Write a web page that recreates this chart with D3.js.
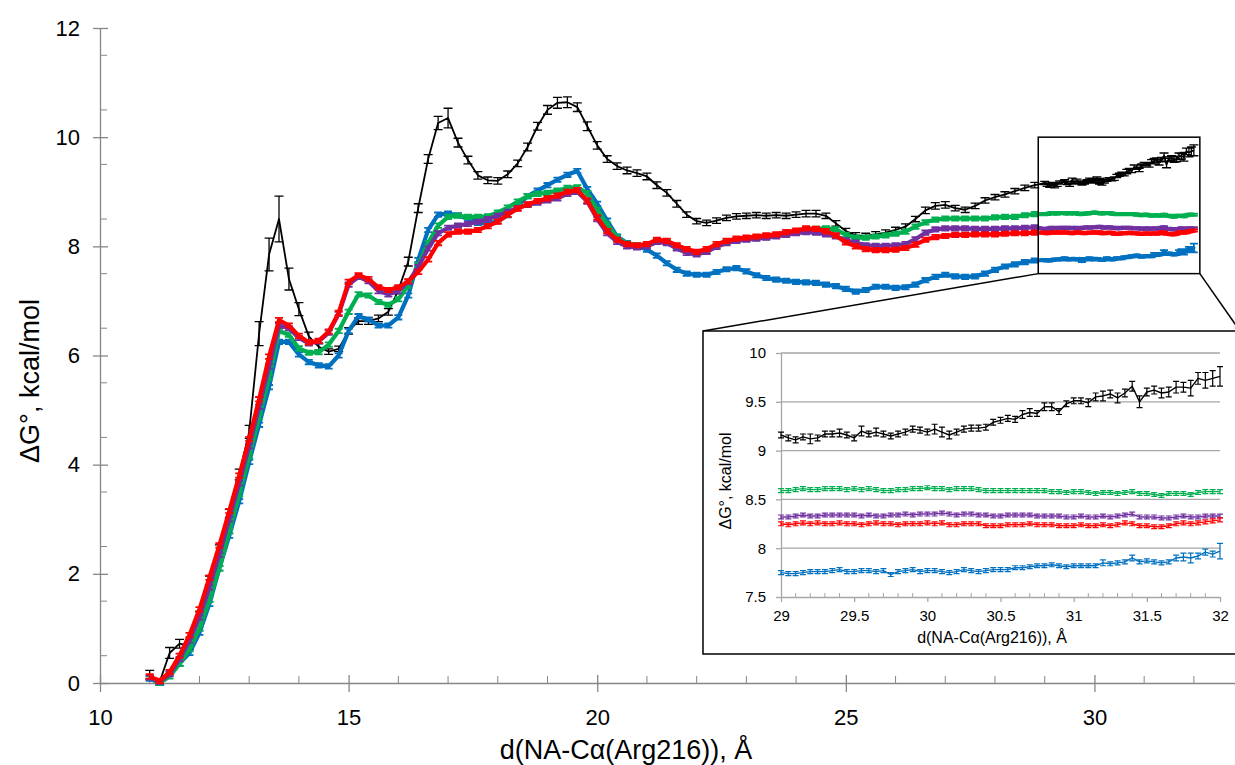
<!DOCTYPE html>
<html>
<head>
<meta charset="utf-8">
<script src="https://cdn.jsdelivr.net/npm/d3@7"></script>
<style>
  body { margin: 0; background: #fff; }
  text { font-family: "Liberation Sans", Arial, sans-serif; fill: #000; }
</style>
</head>
<body>
<script>
// sampling grid: coarse steps on the main curve, fine steps inside the zoomed window
var xMain = d3.range(0, 90).map(function (i) { return +(11 + i * 0.2).toFixed(2); });
var xZoom = d3.range(0, 61).map(function (i) { return +(29 + i * 0.05).toFixed(2); });

var seriesNames = ["black", "blue", "green", "purple", "red"];
var seriesColors = ["#000000", "#0070C0", "#00B050", "#7030A0", "#FF0000"];

// values, 11.0 .. 28.8 (step 0.2)
var blackMain = [
  0.15, 0.02, 0.55, 0.72, 0.68, 1.25, 1.88, 2.45, 3.1, 3.82,
  4.6, 6.4, 7.85, 8.5, 7.4, 6.85, 6.35, 6.16, 6.07, 6.12,
  6.45, 6.63, 6.63, 6.68, 6.8, 7.2, 7.72, 8.7, 9.6, 10.26,
  10.35, 9.9, 9.58, 9.3, 9.21, 9.2, 9.32, 9.52, 9.82, 10.2,
  10.5, 10.63, 10.64, 10.55, 10.2, 9.85, 9.6, 9.47, 9.39, 9.34,
  9.28, 9.12, 8.98, 8.78, 8.58, 8.46, 8.43, 8.47, 8.52, 8.55,
  8.56, 8.57, 8.56, 8.57, 8.56, 8.58, 8.6, 8.6, 8.56, 8.42,
  8.28, 8.2, 8.19, 8.22, 8.25, 8.3, 8.36, 8.5, 8.66, 8.74,
  8.76, 8.7, 8.67, 8.74, 8.84, 8.9, 8.95, 9.01, 9.07, 9.12
];
var blueMain = [
  0.08, 0.0, 0.18, 0.36, 0.55, 0.92, 1.45, 2.1, 2.7, 3.33,
  4.05, 4.73, 5.42, 6.25, 6.25, 6.02, 5.88, 5.82, 5.8, 6.0,
  6.45, 6.72, 6.66, 6.55, 6.55, 6.7, 7.1, 7.75, 8.3, 8.58,
  8.6, 8.57, 8.5, 8.43, 8.42, 8.46, 8.57, 8.74, 8.92, 9.02,
  9.12, 9.22, 9.31, 9.38, 9.05, 8.78, 8.47, 8.18, 8.06, 8.0,
  7.94, 7.83, 7.69, 7.57, 7.5, 7.48, 7.48, 7.53, 7.58, 7.6,
  7.54, 7.47, 7.42, 7.39, 7.37, 7.35, 7.34, 7.33, 7.3, 7.27,
  7.22, 7.17, 7.2, 7.26, 7.26, 7.24, 7.25, 7.3, 7.38, 7.44,
  7.48, 7.45, 7.44, 7.45, 7.5, 7.57, 7.63, 7.67, 7.71, 7.74
];
var greenMain = [
  0.1, 0.0, 0.12, 0.35, 0.62, 1.0, 1.52, 2.1, 2.78, 3.46,
  4.15, 4.88, 5.6, 6.45, 6.38, 6.13, 6.05, 6.06, 6.2, 6.45,
  6.8, 7.12, 7.1, 6.98, 6.93, 7.03, 7.28, 7.65, 8.06, 8.38,
  8.54, 8.56, 8.54, 8.54, 8.55, 8.62, 8.71, 8.82, 8.92, 8.96,
  8.98, 9.02, 9.07, 9.08, 8.97, 8.67, 8.4, 8.16, 8.05, 8.02,
  8.03, 8.1, 8.08, 7.98, 7.92, 7.88, 7.91, 8.0, 8.08, 8.11,
  8.13, 8.15, 8.17, 8.2, 8.23, 8.26, 8.3, 8.32, 8.33, 8.31,
  8.21, 8.16, 8.16, 8.18, 8.2, 8.23, 8.27, 8.36, 8.44, 8.49,
  8.51, 8.51, 8.51, 8.51, 8.51, 8.53, 8.54, 8.54, 8.57, 8.59
];
var purpleMain = [
  0.1, 0.02, 0.16, 0.44, 0.78, 1.2, 1.75, 2.35, 3.0, 3.66,
  4.34, 5.06, 5.8, 6.55, 6.5, 6.32, 6.22, 6.26, 6.42, 6.76,
  7.3, 7.44, 7.36, 7.18, 7.12, 7.18, 7.35, 7.62, 7.96, 8.24,
  8.34, 8.38, 8.41, 8.45, 8.5, 8.56, 8.63, 8.7, 8.76, 8.8,
  8.84, 8.88, 8.96, 9.0, 8.82, 8.5, 8.24, 8.08, 8.0, 7.98,
  8.0, 8.08, 8.06, 7.96, 7.88, 7.85, 7.9, 7.99, 8.06, 8.1,
  8.12, 8.14, 8.16, 8.18, 8.21, 8.24, 8.26, 8.25, 8.22, 8.18,
  8.11, 8.07, 8.02, 8.01, 8.01, 8.02, 8.04, 8.13, 8.25, 8.31,
  8.33, 8.33, 8.33, 8.32, 8.32, 8.32, 8.33, 8.33, 8.34, 8.35
];
var redMain = [
  0.12, 0.04, 0.2, 0.5, 0.88, 1.35, 1.93, 2.52, 3.15, 3.8,
  4.47, 5.2, 5.98, 6.65, 6.55, 6.36, 6.24, 6.27, 6.44, 6.78,
  7.35, 7.47, 7.4, 7.25, 7.2, 7.25, 7.36, 7.53, 7.76, 8.06,
  8.22, 8.27, 8.27, 8.3, 8.37, 8.45, 8.58, 8.69, 8.77, 8.83,
  8.88, 8.93, 9.0, 9.03, 8.84, 8.53, 8.28, 8.12, 8.04, 8.02,
  8.04, 8.12, 8.1, 8.02, 7.95, 7.9, 7.95, 8.04, 8.1, 8.14,
  8.16, 8.18, 8.2, 8.22, 8.26, 8.29, 8.33, 8.32, 8.28, 8.2,
  8.07, 8.0, 7.95, 7.93, 7.93, 7.94, 7.97, 8.03, 8.12, 8.17,
  8.19, 8.21, 8.21, 8.22, 8.22, 8.22, 8.23, 8.24, 8.24, 8.25
];

// values, 29.00 .. 32.00 (step 0.05)
var blackZoom = [
  9.16, 9.13, 9.11, 9.14, 9.12, 9.13, 9.17, 9.17, 9.18, 9.16,
  9.13, 9.20, 9.17, 9.19, 9.17, 9.15, 9.17, 9.19, 9.22, 9.21,
  9.19, 9.22, 9.19, 9.16, 9.19, 9.22, 9.23, 9.23, 9.24, 9.29,
  9.31, 9.33, 9.32, 9.37, 9.39, 9.38, 9.45, 9.45, 9.40, 9.48,
  9.51, 9.51, 9.49, 9.55, 9.56, 9.58, 9.54, 9.59, 9.66, 9.50,
  9.60, 9.62, 9.59, 9.60, 9.65, 9.65, 9.64, 9.74, 9.72, 9.74,
  9.76
];
var blueZoom = [
  7.75, 7.74, 7.74, 7.75, 7.76, 7.76, 7.76, 7.77, 7.78, 7.76,
  7.76, 7.77, 7.77, 7.76, 7.77, 7.73, 7.76, 7.77, 7.78, 7.76,
  7.77, 7.77, 7.76, 7.75, 7.76, 7.78, 7.77, 7.76, 7.77, 7.78,
  7.78, 7.78, 7.80, 7.80, 7.81, 7.82, 7.82, 7.83, 7.82, 7.81,
  7.82, 7.82, 7.82, 7.82, 7.85, 7.84, 7.85, 7.86, 7.90, 7.86,
  7.87, 7.86, 7.85, 7.86, 7.90, 7.91, 7.90, 7.92, 7.96, 7.94,
  7.97
];
var greenZoom = [
  8.59, 8.59, 8.60, 8.61, 8.60, 8.60, 8.61, 8.61, 8.61, 8.60,
  8.61, 8.60, 8.61, 8.60, 8.59, 8.59, 8.60, 8.60, 8.61, 8.61,
  8.62, 8.61, 8.61, 8.60, 8.61, 8.61, 8.61, 8.60, 8.59, 8.59,
  8.59, 8.59, 8.59, 8.59, 8.59, 8.59, 8.59, 8.58, 8.58, 8.57,
  8.58, 8.58, 8.57, 8.56, 8.57, 8.57, 8.56, 8.57, 8.58, 8.56,
  8.56, 8.55, 8.54, 8.56, 8.56, 8.56, 8.55, 8.57, 8.58, 8.58,
  8.58
];
var purpleZoom = [
  8.32, 8.32, 8.33, 8.34, 8.33, 8.33, 8.34, 8.34, 8.34, 8.34,
  8.34, 8.33, 8.34, 8.33, 8.33, 8.34, 8.34, 8.35, 8.34, 8.35,
  8.35, 8.35, 8.36, 8.35, 8.34, 8.35, 8.35, 8.34, 8.34, 8.33,
  8.33, 8.34, 8.34, 8.34, 8.34, 8.33, 8.33, 8.33, 8.33, 8.32,
  8.32, 8.33, 8.32, 8.32, 8.33, 8.32, 8.33, 8.34, 8.35, 8.32,
  8.32, 8.32, 8.31, 8.31, 8.32, 8.33, 8.32, 8.32, 8.33, 8.33,
  8.33
];
var redZoom = [
  8.25, 8.24, 8.25, 8.26, 8.25, 8.26, 8.25, 8.25, 8.26, 8.25,
  8.25, 8.24, 8.25, 8.26, 8.25, 8.25, 8.24, 8.25, 8.25, 8.25,
  8.26, 8.25, 8.26, 8.24, 8.24, 8.25, 8.25, 8.25, 8.23, 8.23,
  8.23, 8.24, 8.24, 8.24, 8.25, 8.24, 8.24, 8.24, 8.23, 8.23,
  8.23, 8.24, 8.23, 8.23, 8.24, 8.23, 8.24, 8.26, 8.25, 8.23,
  8.23, 8.22, 8.22, 8.23, 8.25, 8.26, 8.25, 8.26, 8.27, 8.28,
  8.29
];

// error bar half-widths
var blackErrMain = [
  0.08, 0.06, 0.1, 0.08, 0.06, 0.06, 0.08, 0.08, 0.08, 0.1,
  0.12, 0.22, 0.3, 0.42, 0.2, 0.12, 0.08, 0.06, 0.05, 0.05,
  0.06, 0.06, 0.06, 0.06, 0.06, 0.07, 0.08, 0.08, 0.08, 0.12,
  0.18, 0.08, 0.07, 0.07, 0.06, 0.06, 0.06, 0.06, 0.07, 0.07,
  0.08, 0.1, 0.1, 0.08, 0.08, 0.07, 0.06, 0.06, 0.06, 0.06,
  0.06, 0.06, 0.06, 0.06, 0.05, 0.05, 0.05, 0.05, 0.05, 0.05,
  0.05, 0.05, 0.05, 0.05, 0.05, 0.05, 0.06, 0.06, 0.05, 0.05,
  0.05, 0.05, 0.05, 0.05, 0.05, 0.05, 0.05, 0.05, 0.06, 0.06,
  0.06, 0.05, 0.05, 0.05, 0.05, 0.05, 0.05, 0.05, 0.05, 0.05
];
var blackErrZoom = [
  0.03, 0.03, 0.03, 0.03, 0.05, 0.03, 0.03, 0.03, 0.04, 0.03,
  0.03, 0.05, 0.03, 0.04, 0.03, 0.03, 0.03, 0.03, 0.03, 0.03,
  0.03, 0.05, 0.05, 0.04, 0.03, 0.03, 0.03, 0.03, 0.03, 0.03,
  0.03, 0.03, 0.03, 0.04, 0.04, 0.03, 0.04, 0.04, 0.03, 0.03,
  0.03, 0.03, 0.04, 0.04, 0.05, 0.04, 0.05, 0.04, 0.05, 0.06,
  0.04, 0.04, 0.05, 0.05, 0.06, 0.05, 0.08, 0.06, 0.08, 0.08,
  0.10
];
var blueErrZoom = [
  0.02, 0.02, 0.02, 0.02, 0.02, 0.02, 0.02, 0.02, 0.02, 0.02,
  0.02, 0.02, 0.02, 0.02, 0.02, 0.02, 0.02, 0.02, 0.02, 0.02,
  0.02, 0.02, 0.02, 0.02, 0.02, 0.02, 0.02, 0.02, 0.02, 0.02,
  0.02, 0.02, 0.02, 0.02, 0.02, 0.02, 0.02, 0.02, 0.02, 0.02,
  0.02, 0.02, 0.02, 0.02, 0.03, 0.02, 0.02, 0.02, 0.03, 0.02,
  0.02, 0.02, 0.02, 0.02, 0.03, 0.04, 0.05, 0.03, 0.03, 0.03,
  0.08
];
var colorErrMain = 0.04;
var colorErrZoom = 0.02;

var mainTicksX = [10, 15, 20, 25, 30];
var mainTicksY = [0, 2, 4, 6, 8, 10, 12];
var zoomTicksX = [29, 29.5, 30, 30.5, 31, 31.5, 32];
var zoomTicksY = [7.5, 8, 8.5, 9, 9.5, 10];

var valuesMain = [blackMain, blueMain, greenMain, purpleMain, redMain];
var valuesZoom = [blackZoom, blueZoom, greenZoom, purpleZoom, redZoom];
var errZoomBy = { black: blackErrZoom, blue: blueErrZoom };

var W = 1235, H = 765;
var svg = d3.select("body").append("svg").attr("width", W).attr("height", H);

var xAll = xMain.concat(xZoom);
var series = seriesNames.map(function (name, k) {
  var ez = errZoomBy[name] || xZoom.map(function () { return colorErrZoom; });
  var em = name === "black" ? blackErrMain : xMain.map(function () { return colorErrMain; });
  var vals = valuesMain[k].concat(valuesZoom[k]);
  var errs = em.concat(ez);
  return {
    name: name,
    color: seriesColors[k],
    all: xAll.map(function (x, i) { return { x: x, y: vals[i], e: errs[i] }; }),
    zoom: xZoom.map(function (x, i) { return { x: x, y: valuesZoom[k][i], e: ez[i] }; })
  };
});

// ---------------- main chart ----------------
var x = d3.scaleLinear().domain([10, 33]).range([100, 1243.6]);
var y = d3.scaleLinear().domain([0, 12]).range([683, 28]);
var axisColor = "#868686";

function drawErrorSeries(g, pts, xs, ys, color, lw, ew, cap) {
  var line = d3.line().x(function (d) { return xs(d.x); }).y(function (d) { return ys(d.y); });
  var d = "";
  pts.forEach(function (p) {
    var px = xs(p.x), y1 = ys(p.y + p.e), y2 = ys(p.y - p.e);
    d += "M" + (px - cap / 2) + "," + y1 + "h" + cap +
      "M" + px + "," + y1 + "V" + y2 +
      "M" + (px - cap / 2) + "," + y2 + "h" + cap;
  });
  g.append("path").attr("d", d).attr("fill", "none")
    .attr("stroke", color).attr("stroke-width", ew);
  g.append("path").datum(pts).attr("d", line).attr("fill", "none")
    .attr("stroke", color).attr("stroke-width", lw).attr("stroke-linejoin", "round");
}

// axes
var gx = svg.append("g").attr("transform", "translate(0,683)");
gx.call(d3.axisBottom(x).tickValues(mainTicksX).tickSize(9).tickPadding(17).tickSizeOuter(0));
gx.selectAll(".tick")
  .append("line").attr("y2", -8).attr("stroke", axisColor);
gx.selectAll(".minor").data(d3.range(11, 34).filter(function (v) { return v % 5 !== 0; }))
  .enter().append("line").attr("class", "minor")
  .attr("x1", function (d) { return x(d); }).attr("x2", function (d) { return x(d); })
  .attr("y1", 0).attr("y2", -7).attr("stroke", axisColor);

var gy = svg.append("g").attr("transform", "translate(100,0)");
gy.call(d3.axisLeft(y).tickValues(mainTicksY).tickSize(7).tickPadding(13).tickSizeOuter(0));
gy.selectAll(".tick")
  .append("line").attr("x2", 8).attr("stroke", axisColor);
gy.selectAll(".minor").data(d3.range(0.5, 12, 1))
  .enter().append("line").attr("class", "minor")
  .attr("y1", function (d) { return y(d); }).attr("y2", function (d) { return y(d); })
  .attr("x1", 0).attr("x2", 7).attr("stroke", axisColor);

[gx, gy].forEach(function (g) {
  g.select(".domain").attr("stroke", axisColor).attr("stroke-width", 1.3);
  g.selectAll(".tick line").attr("stroke", axisColor).attr("stroke-width", 1.3);
  g.selectAll(".tick text").attr("font-size", 22).attr("fill", "#000")
    .attr("font-family", "Liberation Sans, Arial, sans-serif");
});

svg.append("text").attr("x", 626).attr("y", 759).attr("text-anchor", "middle")
  .attr("font-size", 27).text("d(NA-Cα(Arg216)), Å");
svg.append("text").attr("transform", "translate(39,381) rotate(-90)")
  .attr("text-anchor", "middle").attr("font-size", 27).text("ΔG°, kcal/mol");

var gMain = svg.append("g");
series.forEach(function (s) {
  if (s.name === "black") {
    drawErrorSeries(gMain, s.all, x, y, s.color, 1.8, 1.3, 9);
  } else {
    drawErrorSeries(gMain, s.all, x, y, s.color, 4.2, 1.8, 8);
  }
});

// zoom window on the main chart
var zx0 = 28.87, zx1 = 32.12, zy0 = 7.5, zy1 = 10;
var insetBox = { left: 703, top: 331, right: 1240, bottom: 654 };
svg.append("rect")
  .attr("x", x(zx0)).attr("y", y(zy1))
  .attr("width", x(zx1) - x(zx0)).attr("height", y(zy0) - y(zy1))
  .attr("fill", "none").attr("stroke", "#000").attr("stroke-width", 1.5);
svg.append("line")
  .attr("x1", x(zx0)).attr("y1", y(zy0)).attr("x2", insetBox.left).attr("y2", insetBox.top)
  .attr("stroke", "#000").attr("stroke-width", 1.5);
svg.append("line")
  .attr("x1", x(zx1)).attr("y1", y(zy0)).attr("x2", insetBox.right).attr("y2", insetBox.top)
  .attr("stroke", "#000").attr("stroke-width", 1.5);

// ---------------- inset ----------------
var insetFont = "Lato, 'Open Sans', sans-serif";
var inset = svg.append("g");
inset.append("rect")
  .attr("x", insetBox.left).attr("y", insetBox.top)
  .attr("width", insetBox.right - insetBox.left).attr("height", insetBox.bottom - insetBox.top)
  .attr("fill", "#fff").attr("stroke", "#000").attr("stroke-width", 1.5);

var xi = d3.scaleLinear().domain([29, 32]).range([781, 1220]);
var yi = d3.scaleLinear().domain([7.5, 10]).range([597, 353]);
var gridColor = "#a6a6a6";

inset.append("g").selectAll("line").data(zoomTicksY.slice(1)).enter().append("line")
  .attr("x1", 781).attr("x2", 1220)
  .attr("y1", function (d) { return yi(d); }).attr("y2", function (d) { return yi(d); })
  .attr("stroke", gridColor).attr("stroke-width", 1.3);

var gxi = inset.append("g").attr("transform", "translate(0," + yi(7.5) + ")");
gxi.call(d3.axisBottom(xi).tickValues(zoomTicksX).tickSize(5).tickPadding(8).tickSizeOuter(0)
  .tickFormat(d3.format("")));
gxi.selectAll(".minor").data(d3.range(29.1, 32, 0.1).filter(function (v) {
  return Math.abs(v * 2 - Math.round(v * 2)) > 0.01;
})).enter().append("line").attr("class", "minor")
  .attr("x1", function (d) { return xi(d); }).attr("x2", function (d) { return xi(d); })
  .attr("y1", 0).attr("y2", -4).attr("stroke", gridColor);

var gyi = inset.append("g").attr("transform", "translate(781,0)");
gyi.call(d3.axisLeft(yi).tickValues(zoomTicksY).tickSize(5).tickPadding(10).tickSizeOuter(0)
  .tickFormat(d3.format("")));

[gxi, gyi].forEach(function (g) {
  g.select(".domain").attr("stroke", gridColor).attr("stroke-width", 1.3);
  g.selectAll(".tick line").attr("stroke", gridColor).attr("stroke-width", 1.3);
  g.selectAll(".tick text").attr("font-size", 15).attr("fill", "#000")
    .attr("font-family", insetFont);
});

inset.append("text").attr("x", 992).attr("y", 643).attr("text-anchor", "middle")
  .attr("font-family", insetFont).attr("font-size", 16).text("d(NA-Cα(Arg216)), Å");
inset.append("text").attr("transform", "translate(731,481) rotate(-90)")
  .attr("font-family", insetFont).attr("text-anchor", "middle").attr("font-size", 16)
  .text("ΔG°, kcal/mol");

var gIn = inset.append("g");
series.forEach(function (s) {
  drawErrorSeries(gIn, s.zoom, xi, yi, s.color, 1.4, 1.2, 6);
});
</script>
</body>
</html>
